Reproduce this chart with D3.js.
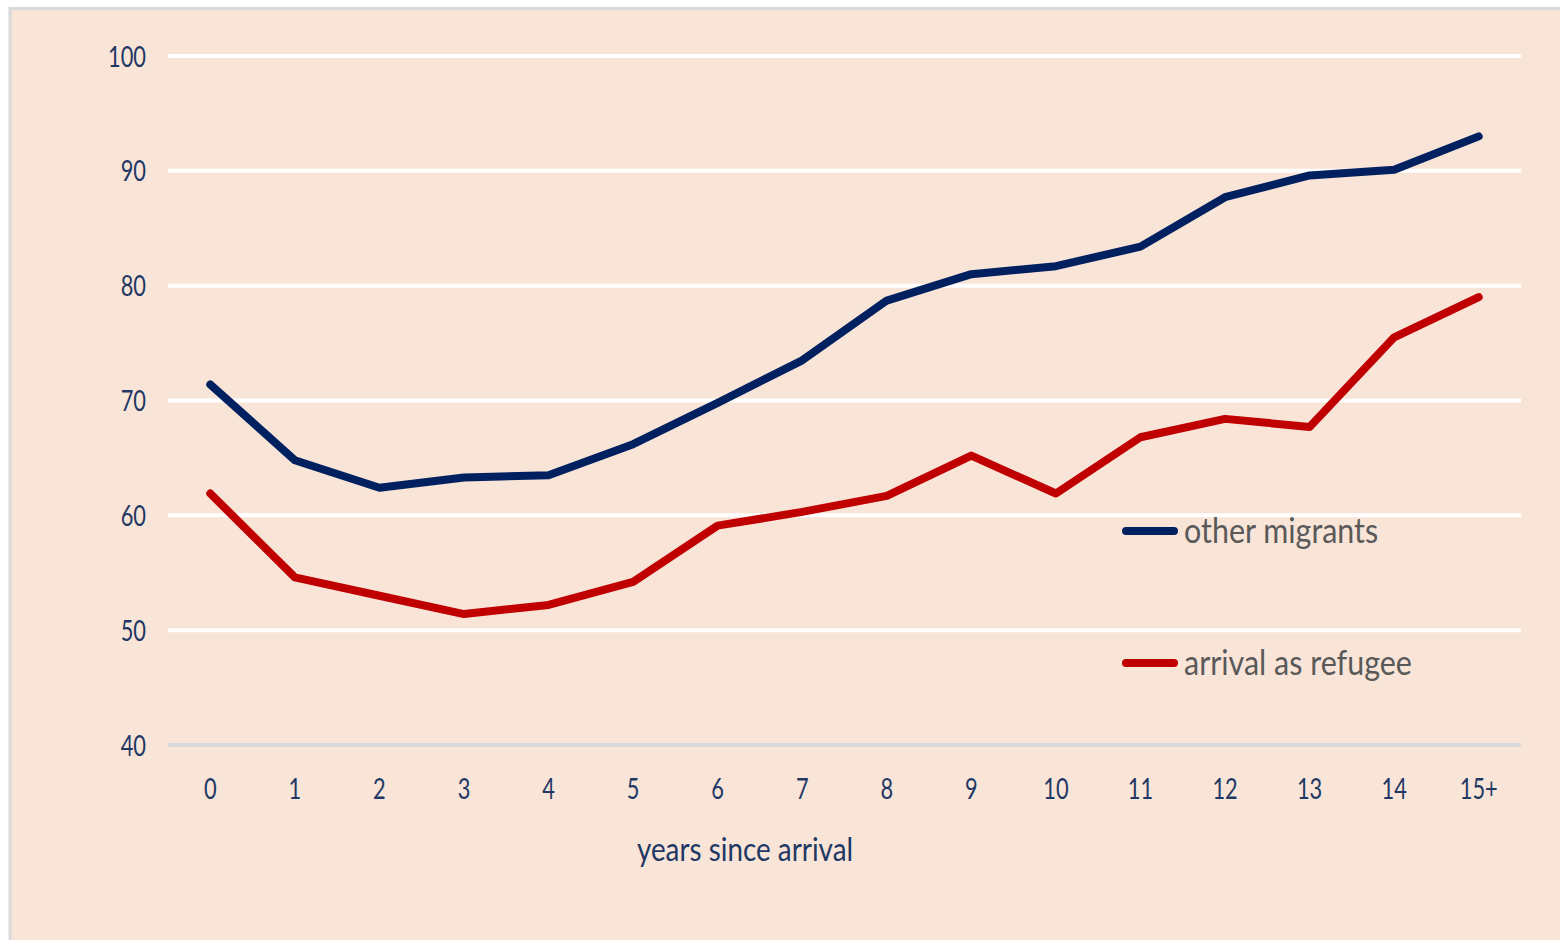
<!DOCTYPE html>
<html lang="en">
<head>
  <meta charset="UTF-8">
  <title>years since arrival</title>
  <script src="https://cdnjs.cloudflare.com/ajax/libs/d3/7.8.5/d3.min.js"></script>
  <style>
    body { margin: 0; background: #fff; }
    text { font-family: Lato, "Open Sans", sans-serif; }
    .tick text { fill: #1f3864; font-size: 28px; }
  </style>
</head>
<body>
  <svg id="chart" width="1560" height="940"></svg>
  <script>
    // data
    const years = ['0','1','2','3','4','5','6','7','8','9','10','11','12','13','14','15+']
    const otherMigrants = [71.4, 64.8, 62.4, 63.3, 63.5, 66.2, 69.8, 73.5, 78.7, 81.0, 81.7, 83.4, 87.7, 89.6, 90.1, 93.0]
    const refugees = [61.9, 54.6, 53.0, 51.4, 52.2, 54.2, 59.1, 60.3, 61.7, 65.2, 61.9, 66.8, 68.4, 67.7, 75.5, 79.0]
    const yTicks = [40, 50, 60, 70, 80, 90, 100]
    const series = [
      { name: 'other migrants', values: otherMigrants, color: '#002060' },
      { name: 'arrival as refugee', values: refugees, color: '#c00000' }
    ]

    // the original font is a narrow one, squeeze text horizontally
    const narrow = 0.78
    const narrowBig = 0.87

    const svg = d3.select('#chart')

    // panel background + border
    svg.append('rect')
      .attr('x', 10).attr('y', 8.5)
      .attr('width', 1560).attr('height', 940)
      .attr('fill', '#f9e4d8')
      .attr('stroke', '#d9d9d9').attr('stroke-width', 3)

    const plotL = 168, plotR = 1521, plotT = 56, plotB = 745

    const x = d3.scaleBand().domain(years).range([plotL, plotR])
    const y = d3.scaleLinear().domain([40, 100]).range([plotB, plotT])

    // gridlines
    svg.append('g')
      .selectAll('line')
      .data(yTicks)
      .join('line')
      .attr('x1', plotL).attr('x2', plotR)
      .attr('y1', d => y(d)).attr('y2', d => y(d))
      .attr('stroke', d => d === 40 ? '#d9d9d9' : '#ffffff')
      .attr('stroke-width', 4)

    // y axis labels
    const yAxis = svg.append('g')
      .attr('transform', `translate(${plotL - 22},0)`)
      .call(d3.axisLeft(y).tickValues(yTicks).tickSize(0).tickPadding(0))
    yAxis.select('.domain').remove()
    yAxis.selectAll('text')
      .attr('dy', '0.36em')
      .attr('transform', `scale(${narrow},1)`)

    // x axis labels
    const xAxis = svg.append('g')
      .attr('transform', `translate(0,${plotB + 34})`)
      .call(d3.axisBottom(x).tickSize(0).tickPadding(0))
    xAxis.select('.domain').remove()
    xAxis.selectAll('text')
      .attr('transform', `scale(${narrow},1)`)

    svg.append('g')
      .attr('transform', 'translate(745,861)')
      .append('text')
      .attr('transform', `scale(${narrowBig},1)`)
      .attr('text-anchor', 'middle')
      .attr('fill', '#1f3864')
      .attr('font-size', 32)
      .text('years since arrival')

    const line = d3.line()
      .x((d, i) => x(years[i]) + x.bandwidth() / 2)
      .y(d => y(d))

    svg.append('g')
      .selectAll('path')
      .data(series)
      .join('path')
      .attr('d', d => line(d.values))
      .attr('fill', 'none')
      .attr('stroke', d => d.color)
      .attr('stroke-width', 8)
      .attr('stroke-linejoin', 'round')
      .attr('stroke-linecap', 'round')

    // legend
    const legend = svg.append('g')
      .selectAll('g')
      .data(series)
      .join('g')
      .attr('transform', (d, i) => `translate(1124,${531 + i * 132})`)
    legend.append('line')
      .attr('x1', 2).attr('x2', 50)
      .attr('stroke', d => d.color)
      .attr('stroke-width', 8)
      .attr('stroke-linecap', 'round')
    legend.append('g')
      .attr('transform', 'translate(60,0)')
      .append('text')
      .attr('transform', `scale(${narrowBig},1)`)
      .attr('dy', '0.35em')
      .attr('fill', '#595959')
      .attr('font-size', 35)
      .text(d => d.name)
  </script>
</body>
</html>
